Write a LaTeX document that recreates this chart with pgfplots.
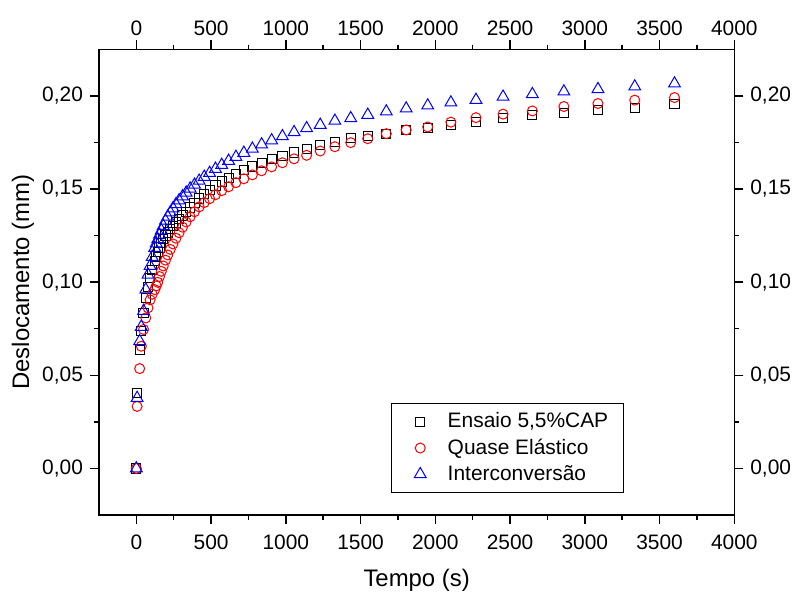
\documentclass[border=0pt]{standalone}
\usepackage{fontspec}
\setmainfont{Liberation Sans}
\usepackage{pgfplots}
\usepackage{pgfplotstable}
\pgfplotsset{compat=1.18}

% time (s), Ensaio 5,5%CAP, Quase Elastico, Interconversao
\pgfplotstableread{
t     ens     qe      inter
0     0       0       0
5     0.0405  0.0333  0.0378
22    0.0636  0.0536  0.0683
33    0.0736  0.0656  0.0760
48    0.0836  0.0746  0.0845
63    0.0915  0.0808  0.0960
78    0.0976  0.0862  0.1040
92    0.1024  0.0905  0.1087
106   0.1066  0.0935  0.1135
123   0.1113  0.0960  0.1184
133   0.1138  0.0980  0.1208
143   0.1161  0.0999  0.1230
155   0.1186  0.1030  0.1255
167   0.1209  0.1058  0.1278
180   0.1232  0.1087  0.1302
195   0.1250  0.1118  0.1330
210   0.1267  0.1146  0.1351
227   0.1284  0.1176  0.1374
245   0.1301  0.1205  0.1396
265   0.1320  0.1236  0.1418
286   0.1339  0.1265  0.1439
309   0.1358  0.1295  0.1460
333   0.1377  0.1323  0.1480
360   0.1401  0.1351  0.1502
389   0.1425  0.1378  0.1523
420   0.1449  0.1404  0.1544
454   0.1472  0.1427  0.1565
490   0.1496  0.1448  0.1586
529   0.1519  0.1469  0.1608
571   0.1540  0.1491  0.1629
617   0.1561  0.1512  0.1651
666   0.1582  0.1534  0.1672
719   0.1601  0.1555  0.1694
776   0.1621  0.1576  0.1716
838   0.1640  0.1598  0.1739
905   0.1659  0.1619  0.1761
977   0.1678  0.1641  0.1783
1055  0.1696  0.1662  0.1805
1139  0.1713  0.1681  0.1826
1230  0.1735  0.1704  0.1844
1328  0.1753  0.1727  0.1866
1434  0.1773  0.1749  0.1880
1548  0.1783  0.1770  0.1898
1672  0.1797  0.1797  0.1916
1805  0.1815  0.1817  0.1932
1949  0.1826  0.1833  0.1948
2104  0.1844  0.1859  0.1964
2272  0.1860  0.1883  0.1978
2453  0.1883  0.1902  0.1995
2649  0.1898  0.1919  0.2009
2860  0.1907  0.1943  0.2023
3088  0.1926  0.1959  0.2036
3334  0.1935  0.1977  0.2050
3600  0.1955  0.1991  0.2066
}\creep

\pgfplotsset{
  frame/.style={
    scale only axis, width=317.65bp, height=232.85bp,
    at={(0,0)}, anchor=south west,
    xmin=-250, xmax=4000, ymin=-0.025, ymax=0.225,
    xtick={0,500,1000,1500,2000,2500,3000,3500,4000},
    ytick={0,0.05,0.1,0.15,0.2},
    minor x tick num=1, minor y tick num=1,
    tick align=outside, tick pos=both,
    major tick length=4.5bp, minor tick length=2.3bp,
    axis line style={line width=0.75bp},
    tick style={line width=0.75bp, black},
    ticklabel style={font=\fontsize{10.5}{12}\selectfont},
    /pgf/number format/assume math mode=true,
    xticklabel style={/pgf/number format/1000 sep={}},
    yticklabel style={/pgf/number format/.cd, fixed, fixed zerofill, precision=2, use comma},
  }
}

\begin{document}
\begin{tikzpicture}
\path[use as bounding box] (-49.5bp,-38.5bp) rectangle (348bp,257.5bp);

\begin{axis}[
    frame,
    xticklabel style={yshift=-2bp},
    xlabel={Tempo (s)},
    ylabel={Deslocamento (mm)},
    label style={font=\fontsize{12}{14}\selectfont},
    xlabel style={at={(axis description cs:0.5,-0.154)}, anchor=base},
    ylabel style={at={(axis description cs:-0.1196,0.5)}, anchor=center},
    legend cell align=left,
    legend image code/.code={%
        \path (-0.3cm,0cm) (0.3cm,0cm);
        \draw[#1] plot coordinates {(0cm,0cm)};},
    legend style={at={(0.46,0.24)}, anchor=north west, draw=black,
        line width=0.5bp, font=\fontsize{10.5}{12}\selectfont,
        inner xsep=5.5bp, inner ysep=2.5bp, row sep=0pt,
        /tikz/every odd column/.append style={column sep=3bp}},
]
\addplot[only marks, mark=square, mark size=2.3bp,
    mark options={draw=black, line width=0.5bp}] table[x=t, y=ens] {\creep};
\addplot[only marks, mark=o, mark size=2.5bp,
    mark options={draw=red, line width=0.5bp}] table[x=t, y=qe] {\creep};
\addplot[only marks, mark=triangle, mark size=3.4bp,
    mark options={draw=blue, line width=0.5bp}] table[x=t, y=inter] {\creep};
\legend{{Ensaio 5,5\%CAP}, {Quase Elástico}, {Interconversão}}
\end{axis}

% mirrored tick labels on top and right
\begin{axis}[
    frame,
    xticklabel pos=upper,
    yticklabel pos=right,
    xticklabel style={yshift=-1bp},
]
\end{axis}
\end{tikzpicture}
\end{document}
